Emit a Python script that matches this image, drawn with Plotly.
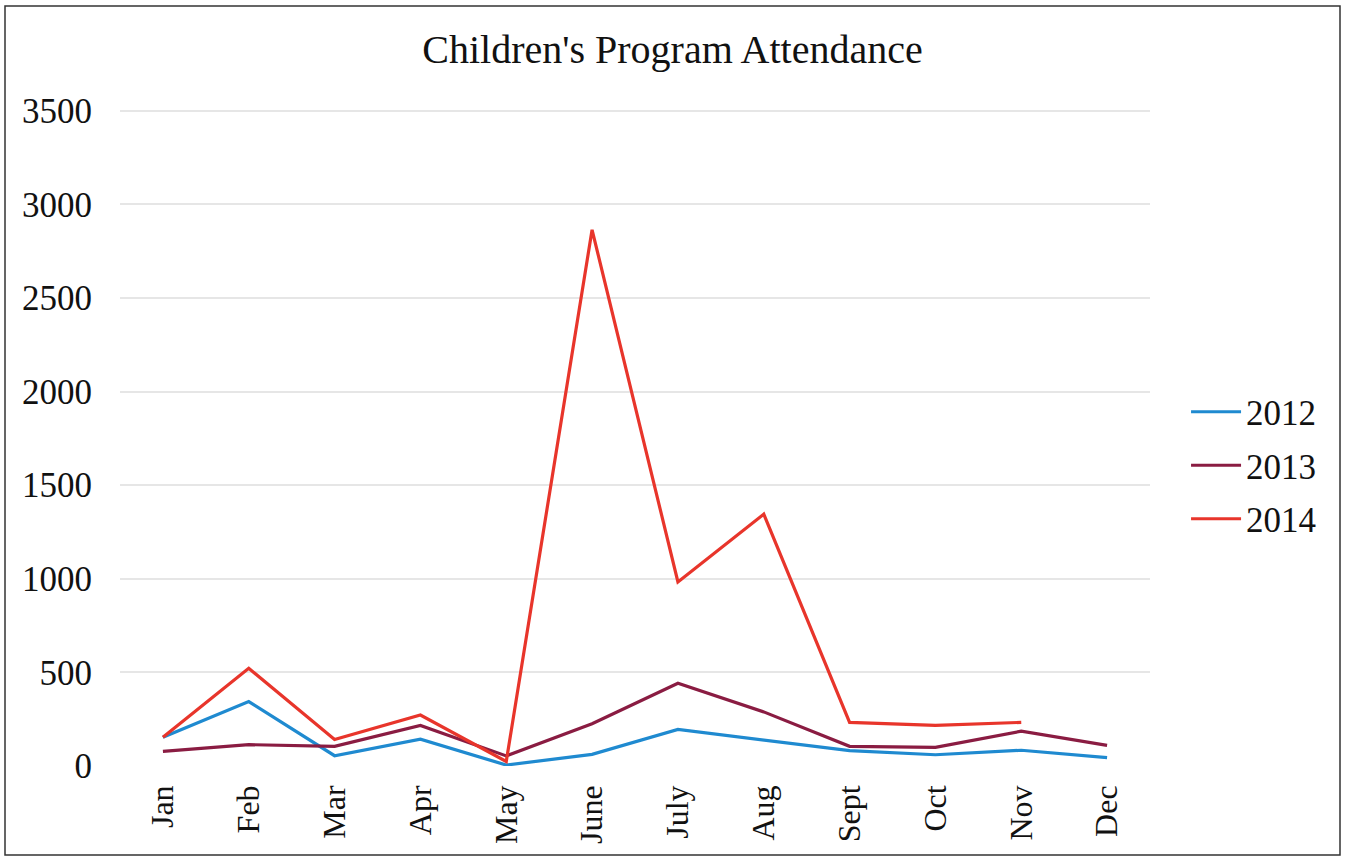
import plotly.graph_objects as go

months = ["Jan", "Feb", "Mar", "Apr", "May", "June", "July", "Aug", "Sept", "Oct", "Nov", "Dec"]
y2012 = [154, 344, 55, 143, 5, 62, 195, 140, 82, 60, 84, 45]
y2013 = [78, 114, 105, 217, 54, 226, 442, 289, 105, 100, 186, 110]
y2014 = [154, 522, 141, 272, 24, 2864, 983, 1345, 233, 217, 233, None]

series = [("2012", y2012, "#1f8ad0"), ("2013", y2013, "#8a1c42"), ("2014", y2014, "#e8352b")]

fig = go.Figure()
for name, vals, col in series:
    fig.add_trace(go.Scatter(x=months, y=vals, name=name, legendgroup=name, mode="lines",
                             line=dict(color=col, width=3.2), connectgaps=False))

FONT = "Liberation Serif"
fig.update_layout(
    width=1345, height=860,
    paper_bgcolor="white", plot_bgcolor="white",
    margin=dict(l=120, r=195, t=107, b=94),
    title=dict(text="Children's Program Attendance", x=0.5, xref="container", xanchor="center",
               y=1 - 49 / 860, yref="container", yanchor="middle",
               font=dict(family=FONT, size=40, color="#111111")),
    showlegend=True,
    legend=dict(x=1.035, y=0.456, xanchor="left", yanchor="middle",
                font=dict(family=FONT, size=35, color="#111111"),
                bgcolor="rgba(0,0,0,0)", itemwidth=50, tracegroupgap=5),
    font=dict(family=FONT, color="#111111"),
)
fig.update_xaxes(showgrid=False, showline=False, zeroline=False, tickangle=-90,
                 tickfont=dict(family=FONT, size=32, color="#111111"),
                 ticklabelstandoff=12, range=[-0.5, 11.5])
fig.update_yaxes(range=[0, 3520], tickvals=[0, 500, 1000, 1500, 2000, 2500, 3000, 3500],
                 showgrid=True, gridcolor="#e6e6e6", gridwidth=1.5,
                 zeroline=False, showline=False,
                 tickfont=dict(family=FONT, size=35, color="#111111"),
                 ticklabelstandoff=27)

# outer border (plot area: x 120..1150 px, y 107..766 px)
fig.add_shape(type="rect", xref="paper", yref="paper",
              x0=(5 - 120) / 1030, x1=(1340 - 120) / 1030,
              y0=(766 - 855) / 659, y1=(766 - 6) / 659,
              line=dict(color="#333333", width=1.5), fillcolor="rgba(0,0,0,0)", layer="below")

fig.write_html("out.html", config={"displayModeBar": False},
               post_script="document.body.style.margin='0px';")
